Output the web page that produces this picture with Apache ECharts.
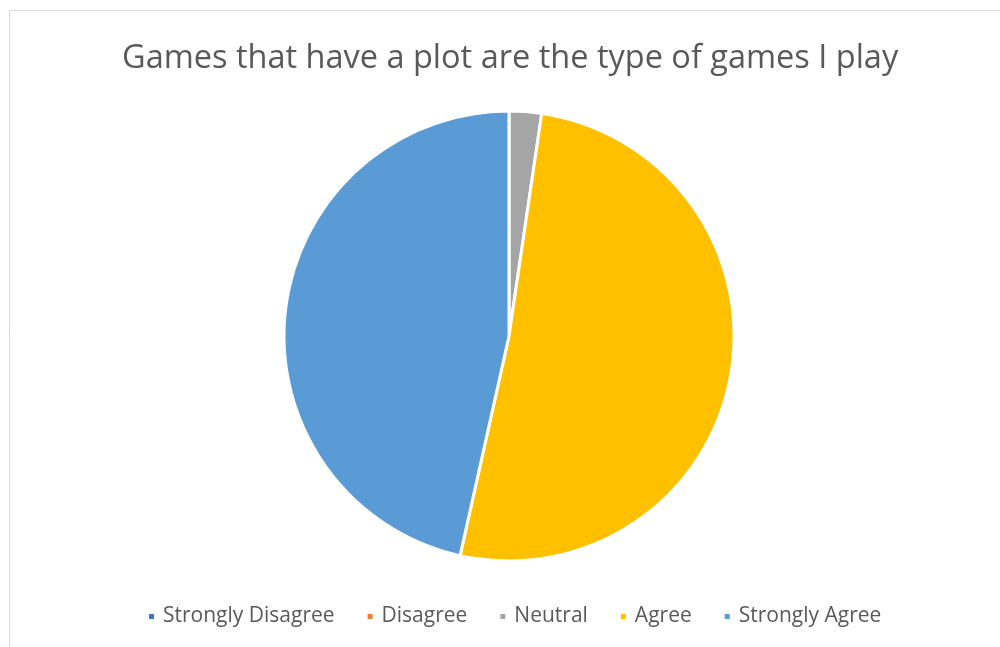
<!DOCTYPE html>
<html>
<head>
<meta charset="utf-8">
<script src="https://cdn.jsdelivr.net/npm/echarts@6/dist/echarts.min.js"></script>
<style>
  html, body { margin: 0; padding: 0; background: #ffffff; }
  #chart { width: 1000px; height: 647px; }
</style>
</head>
<body>
<div id="chart"></div>
<script>
// Survey responses
const titleText = 'Games that have a plot are the type of games I play';
const categories = ['Strongly Disagree', 'Disagree', 'Neutral', 'Agree', 'Strongly Agree'];
const counts = [0, 0, 1, 22, 20];
const colors = ['#4472C4', '#ED7D31', '#A5A5A5', '#FFC000', '#5B9BD5'];

const chart = echarts.init(document.getElementById('chart'));

const pieData = categories.map((name, i) => ({
  name: name,
  value: counts[i],
  itemStyle: { color: colors[i] }
}));

chart.setOption({
  animation: false,
  backgroundColor: '#ffffff',
  graphic: [{
    type: 'rect',
    shape: { x: 9.5, y: 10.5, width: 1100, height: 700 },
    style: { fill: 'none', stroke: '#d9d9d9', lineWidth: 1 },
    silent: true
  }],
  title: {
    text: titleText,
    left: 117,
    top: 37,
    textStyle: {
      fontFamily: 'Open Sans',
      fontWeight: 'normal',
      fontSize: 32.5,
      color: '#595959'
    }
  },
  legend: {
    bottom: 15,
    left: 142,
    icon: 'rect',
    itemWidth: 7,
    itemHeight: 7,
    itemGap: 31,
    selectedMode: false,
    textStyle: {
      fontFamily: 'Open Sans',
      fontSize: 21,
      color: '#595959',
      padding: [0, 0, 0, 3]
    },
    data: categories
  },
  series: [{
    type: 'pie',
    center: [509, 336],
    radius: [0, 225],
    startAngle: 90,
    clockwise: true,
    minAngle: 0,
    stillShowZeroSum: true,
    label: { show: false },
    labelLine: { show: false },
    emphasis: { disabled: true },
    itemStyle: { borderColor: '#ffffff', borderWidth: 3 },
    data: pieData
  }]
});
</script>
</body>
</html>
